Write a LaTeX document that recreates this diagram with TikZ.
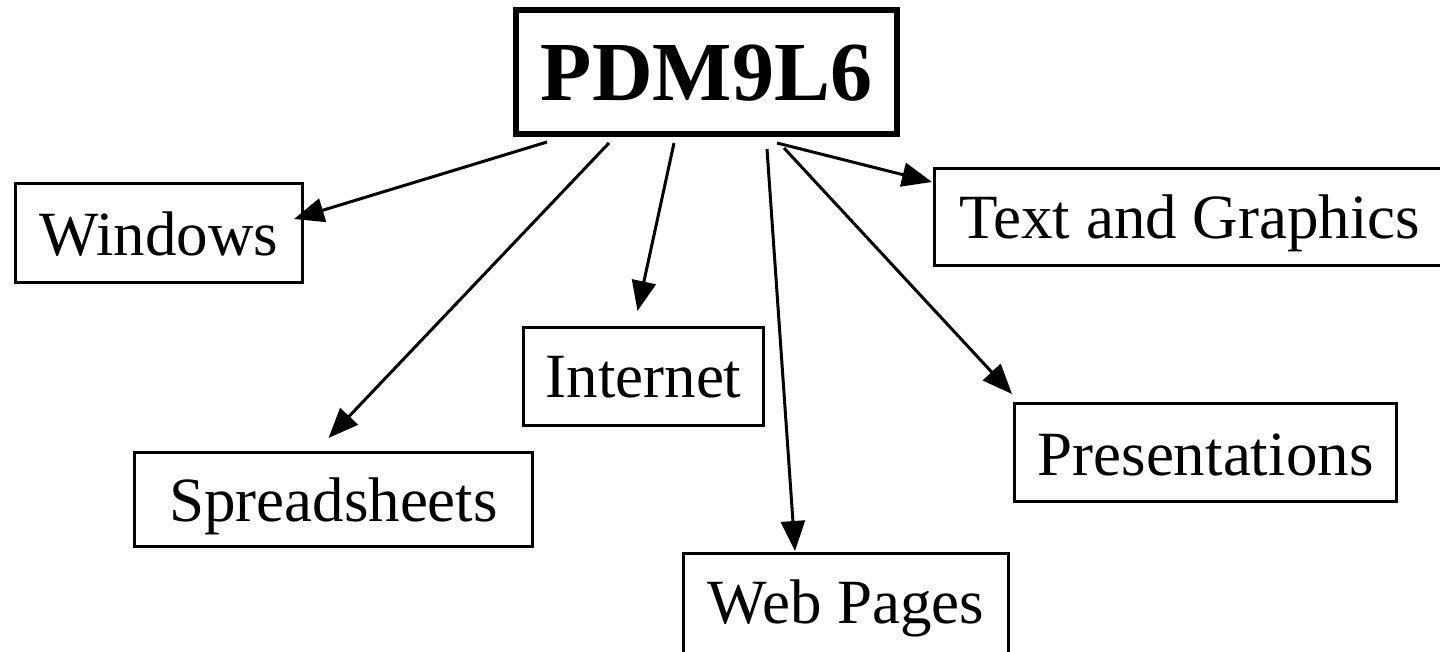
\documentclass[tikz,border=0pt]{standalone}
\usepackage{fontspec}
\setmainfont{Liberation Serif}
\usetikzlibrary{arrows.meta,calc}
\begin{document}
\begin{tikzpicture}[x=1pt,y=-1pt,
  box/.style={draw,line width=3pt,inner sep=0pt,anchor=base,font=\fontsize{63}{70}\selectfont},
  arr/.style={line width=3pt,-{Triangle[length=30pt,width=24pt]}}]
\useasboundingbox (0,0) rectangle (1440,651);
\clip (0,0) rectangle (1440,651);
\node[box,line width=6pt,font=\bfseries\fontsize{84}{90}\selectfont,minimum width=381pt,text height=90pt,text depth=34pt] (pdm) at (706.5,100) {PDM9L6};
\node[box,minimum width=287pt,text height=71.5pt,text depth=27.5pt] (win) at (159,255) {Windows};
\node[box,minimum width=510.5pt,text height=69.5pt,text depth=27.5pt] (tg) at (1189.75,238) {Text and Graphics};
\node[box,minimum width=240pt,text height=69.5pt,text depth=28.5pt] (int) at (643.5,397) {Internet};
\node[box,minimum width=398pt,text height=68.5pt,text depth=25.5pt] (spr) at (333.5,521) {Spreadsheets};
\node[box,minimum width=382pt,text height=71.5pt,text depth=26.5pt] (pre) at (1205.5,475) {Presentations};
\node[box,minimum width=325pt,text height=69.5pt,text depth=57pt] (web) at (846,623) {Web Pages};
\draw[arr] ($(pdm.south west)+(34,5)$) -- ($(win.north east)+(-10,37)$);
\draw[arr] ($(pdm.south west)+(96,6)$) -- ($(spr.north)+(-5,-13)$);
\draw[arr] ($(pdm.south west)+(161,6)$) -- ($(int.north)+(-6,-15)$);
\draw[arr] ($(pdm.south west)+(254,12)$) -- ($(web.north)+(-51,-1)$);
\draw[arr] ($(pdm.south west)+(271,11)$) -- ($(pre.north west)+(-1,-8)$);
\draw[arr] ($(pdm.south west)+(264,6)$) -- ($(tg.north west)+(-1,15)$);
\end{tikzpicture}
\end{document}
